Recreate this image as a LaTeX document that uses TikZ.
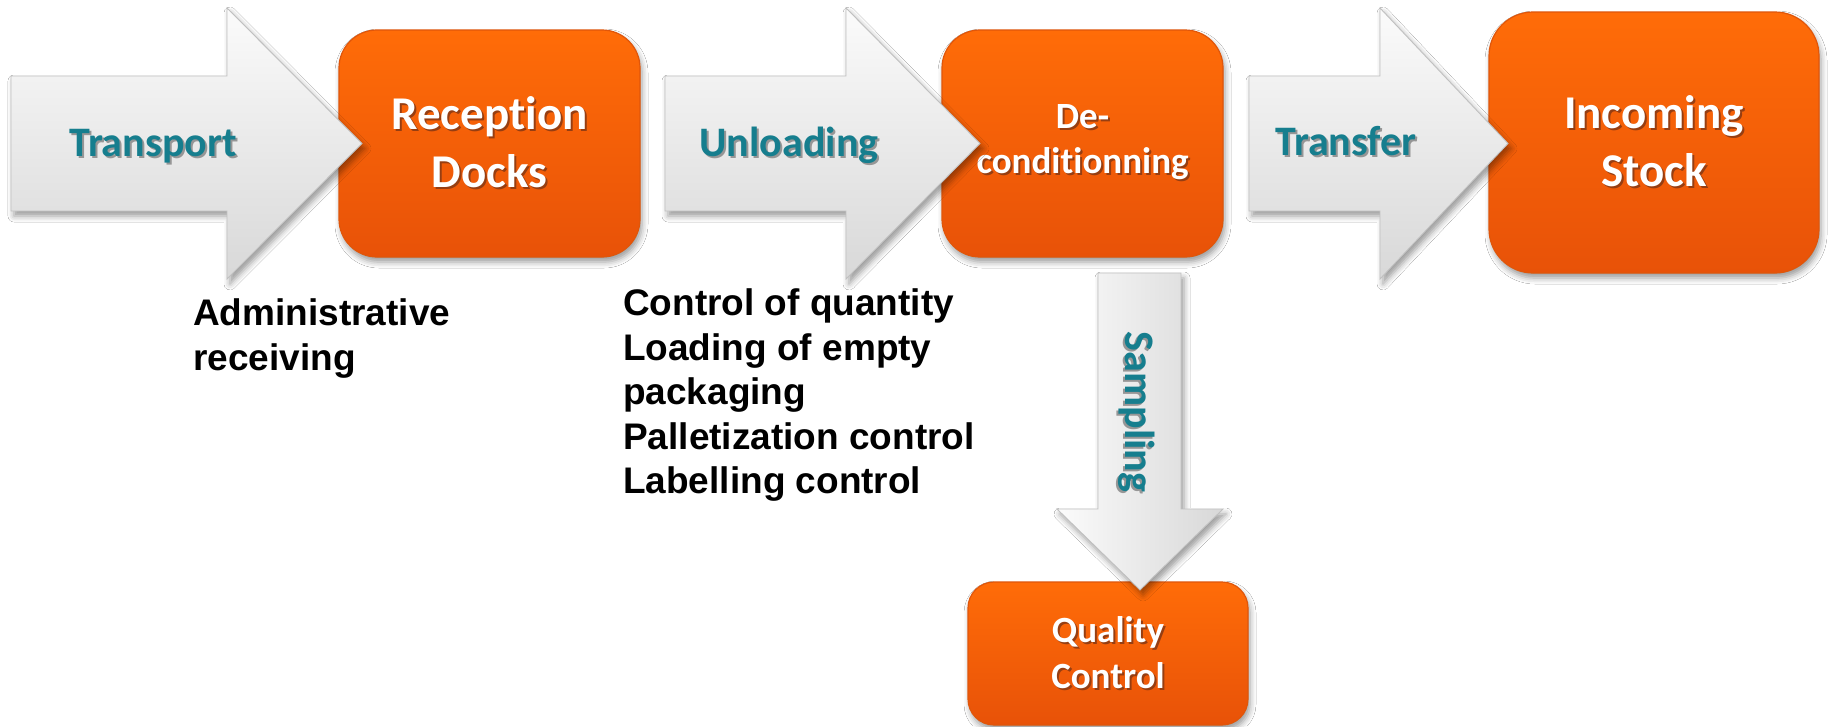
\documentclass[tikz,border=0pt]{standalone}
\usepackage{fontspec}
\setmainfont{Liberation Sans}
\newfontfamily\calfont[Ligatures=NoCommon]{Carlito}
\usetikzlibrary{shadows.blur}

\definecolor{orangeTop}{RGB}{255,108,8}
\definecolor{orangeBot}{RGB}{232,82,8}
\definecolor{orangeLine}{RGB}{224,86,10}
\definecolor{orangeShade}{RGB}{150,62,18}
\definecolor{arrowTop}{RGB}{251,251,251}
\definecolor{arrowBot}{RGB}{216,216,216}
\definecolor{arrowLine}{RGB}{192,192,192}
\definecolor{labelTeal}{RGB}{22,126,142}
\definecolor{labelShade}{RGB}{150,150,150}

% text with a soft offset shadow behind it
\newcommand\shtxt[2]{\rlap{\kern2pt\lower2pt\hbox{\color{#1}#2}}#2}

\tikzset{
  stage/.style={draw=orangeLine, line width=1.2pt,
    top color=orangeTop, bottom color=orangeBot,
    blur shadow={shadow xshift=2pt, shadow yshift=-5pt, shadow blur radius=6pt, shadow opacity=40},
    text=white, align=center, inner sep=0pt,
    font=\calfont\bfseries\fontsize{47}{58}\selectfont},
  flow/.style={draw=arrowLine, line width=0.9pt, line join=miter,
    top color=arrowTop, bottom color=arrowBot,
    blur shadow={shadow xshift=3pt, shadow yshift=-5pt, shadow blur radius=6pt, shadow opacity=40}},
  vflow/.style={flow, left color=arrowTop, right color=arrowBot},
  flowlabel/.style={text=labelTeal, inner sep=0pt,
    font=\calfont\bfseries\fontsize{42}{50}\selectfont},
  note/.style={anchor=north west, align=left, inner sep=0pt,
    font=\bfseries\fontsize{37}{44.5}\selectfont}
}

% right-pointing block arrow: shaft start, head base, tip
\newcommand\rightflow[3]{%
  \path[flow] (#1,76) -- (#2,76) -- (#2,8) -- (#3,143.5) -- (#2,279) -- (#2,211) -- (#1,211) -- cycle;}

\begin{document}
\begin{tikzpicture}[x=1pt,y=-1pt]
\useasboundingbox[fill=white] (0,0) rectangle (1828,726);

% process stages
\node[stage, minimum width=301pt, minimum height=227pt, rounded corners=38pt] (rec) at (489.5,143.5)
  {\shtxt{orangeShade}{Reception}\\\shtxt{orangeShade}{Docks}};
\node[stage, minimum width=281pt, minimum height=227pt, rounded corners=38pt,
  font=\calfont\bfseries\fontsize{37}{45}\selectfont] (dec) at (1082.5,143.5)
  {\shtxt{orangeShade}{De-}\\\shtxt{orangeShade}{conditionning}};
\node[stage, minimum width=330pt, minimum height=261pt, rounded corners=44pt] (inc) at (1654,142.5)
  {\shtxt{orangeShade}{Incoming}\\\shtxt{orangeShade}{Stock}};
\node[stage, minimum width=280pt, minimum height=143pt, rounded corners=26pt,
  font=\calfont\bfseries\fontsize{37}{46}\selectfont] (qc) at (1108,653.5)
  {\shtxt{orangeShade}{Quality}\\\shtxt{orangeShade}{Control}};

% flow arrows between the stages
\rightflow{11}{227}{362}
\rightflow{665}{846}{980}
\rightflow{1249}{1380}{1508}
\path[vflow] (1098,273) -- (1181,273) -- (1181,509) -- (1223,509) -- (1140,590)
  -- (1057,509) -- (1098,509) -- cycle;

% arrow labels
\node[flowlabel] (transport) at (153,147) {\shtxt{labelShade}{Transport}};
\node[flowlabel] (unloading) at (789,146.5) {\shtxt{labelShade}{Unloading}};
\node[flowlabel] (transfer) at (1346,142) {\shtxt{labelShade}{Transfer}};
\node[flowlabel, rotate=-90] (sampling) at (1136,412) {\shtxt{labelShade}{Sampling}};

% checks carried out at each step
\node[note] (admin) at (193,298.5) {Administrative\\receiving};
\node[note] (checks) at (623,288.5)
  {Control of quantity\\Loading of empty\\packaging\\Palletization control\\Labelling control};
\end{tikzpicture}
\end{document}
